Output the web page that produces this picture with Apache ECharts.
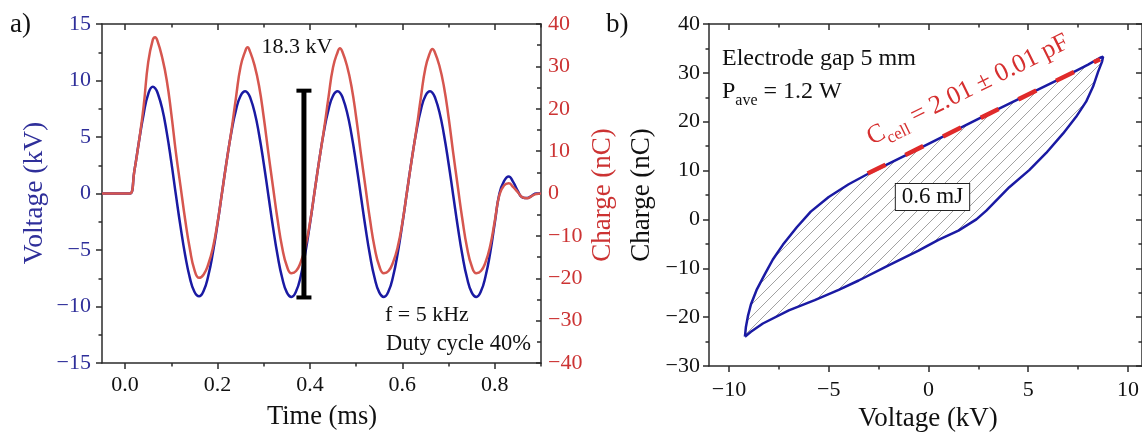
<!DOCTYPE html>
<html><head><meta charset="utf-8">
<script src="https://cdn.jsdelivr.net/npm/echarts@6/dist/echarts.min.js"></script>
<style>html,body{margin:0;padding:0;background:#fff}#c{width:1142px;height:434px}</style>
</head><body><div id="c"></div>
<script>
// ---------- data ----------
const timeMs = [
  -0.05, 0.0, 0.0105,
  0.02, 0.03, 0.04, 0.05, 0.06, 0.065, 0.07, 0.08, 0.09, 0.10, 0.11,
  0.12, 0.13, 0.14, 0.15, 0.16, 0.17, 0.18, 0.19, 0.20, 0.21,
  0.22, 0.23, 0.24, 0.25, 0.26, 0.265, 0.27, 0.28, 0.29, 0.30, 0.31,
  0.32, 0.33, 0.34, 0.35, 0.36, 0.37, 0.38, 0.39, 0.40, 0.41,
  0.42, 0.43, 0.44, 0.45, 0.46, 0.465, 0.47, 0.48, 0.49, 0.50, 0.51,
  0.52, 0.53, 0.54, 0.55, 0.56, 0.57, 0.58, 0.59, 0.60, 0.61,
  0.62, 0.63, 0.64, 0.65, 0.66, 0.665, 0.67, 0.68, 0.69, 0.70, 0.71,
  0.72, 0.73, 0.74, 0.75, 0.76, 0.77, 0.78, 0.79, 0.80, 0.81,
  0.82, 0.83, 0.84, 0.85, 0.86, 0.87, 0.88, 0.89, 0.90
];
const voltageKV = [
  0, 0, 0,
  2.0, 4.6, 7.0, 8.8, 9.45, 9.31, 8.94, 7.56, 5.43, 2.78, -0.15,
  -2.95, -5.46, -7.44, -8.70, -9.10, -8.61, -7.28, -5.23, -2.68, 0.14,
  2.93, 5.43, 7.40, 8.65, 9.05, 8.92, 8.56, 7.24, 5.20, 2.66, -0.15,
  -2.96, -5.49, -7.48, -8.75, -9.15, -8.66, -7.32, -5.26, -2.69, 0.14,
  2.93, 5.43, 7.40, 8.65, 9.05, 8.92, 8.56, 7.24, 5.20, 2.66, -0.15,
  -2.96, -5.49, -7.48, -8.75, -9.15, -8.66, -7.32, -5.26, -2.69, 0.14,
  2.93, 5.43, 7.40, 8.65, 9.05, 8.92, 8.56, 7.24, 5.20, 2.66, -0.15,
  -2.96, -5.49, -7.48, -8.75, -9.15, -8.66, -7.32, -5.26, -2.60, 0.0,
  1.1, 1.5, 1.0, 0.2, -0.35, -0.4, -0.2, 0.0, 0.0
];
const chargeNC = [
  0, 0, 0,
  5.3, 12.3, 20.5, 31.0, 36.3, 36.9, 36.0, 32.2, 26.8, 18.8, 9.6,
  1.7, -6.2, -13.0, -18.0, -19.9, -19.1, -16.7, -12.8, -6.9, 0.4,
  7.8, 14.8, 22.7, 30.0, 33.6, 34.5, 33.6, 30.3, 25.3, 18.0, 9.6,
  1.6, -6.2, -12.8, -17.1, -18.8, -18.3, -16.2, -12.6, -6.9, 0.4,
  7.8, 14.8, 22.6, 29.8, 33.4, 34.3, 33.5, 30.2, 25.2, 18.0, 9.6,
  1.6, -6.2, -12.8, -17.1, -18.8, -18.3, -16.2, -12.6, -6.9, 0.4,
  7.8, 14.8, 22.6, 29.7, 33.3, 34.1, 33.4, 30.2, 25.2, 18.0, 9.6,
  1.6, -6.2, -12.8, -17.1, -18.8, -18.3, -16.2, -12.4, -6.5, -0.3,
  1.9, 2.4, 1.5, 0.3, -0.9, -1.1, -0.6, -0.1, 0.0
];
// Q-V Lissajous loop (panel b)
const loopVoltage = [
  -9.2, -9.15, -9.05, -8.9, -8.6, -8.2, -7.8, -7.3, -6.6, -5.9, -5.0, -4.0, -3.0,
  -1.0, 1.0, 3.0, 5.0, 7.0, 8.0, 8.6, 8.75,
  8.7, 8.5, 8.25, 7.9, 7.4, 6.75, 5.9, 5.05, 4.05, 2.9, 2.4, 1.5, 0.5, -0.5,
  -2.0, -3.5, -4.5, -5.7, -7.0, -8.3, -8.9, -9.2
];
const loopCharge = [
  -24.0, -22.0, -19.8, -17.4, -14.3, -11.2, -8.2, -5.2, -1.6, 1.6, 4.6, 7.2, 9.4,
  13.4, 17.5, 21.6, 25.6, 29.6, 31.7, 33.1, 33.3,
  32.3, 30.2, 27.2, 24.1, 21.0, 17.6, 13.6, 10.1, 6.6, 1.8, 0.0, -2.3, -4.2, -6.4,
  -9.4, -12.5, -14.4, -16.5, -18.6, -21.3, -23.0, -24.0
];
const fitVoltage = [-3.05, 8.6];
const fitCharge = [9.4, 32.8];
const errTime = 0.387, errLow = -9.2, errHigh = 9.1;
const timeMajor = [0, 0.2, 0.4, 0.6, 0.8];
const timeMinor = [0.1, 0.3, 0.5, 0.7, 0.9];
const voltMajor = [-10, -5, 0, 5, 10];
const voltMinor = [-7.5, -2.5, 2.5, 7.5];

// ---------- styles ----------
const FONT = 'Liberation Serif';
const AX = '#2b2b2b';
const BLUE = '#1a1aa3';
const RED = '#d6564f';
const BLUE_TXT = '#2f2f9a';
const RED_TXT = '#cc3333';
const minus = v => (v < 0 ? '\u2212' + Math.abs(v) : String(v));

function xAx(grid, pos, min, max, ticks, len, inside, labels, margin, fmt, showLine) {
  return {
    type: 'value', gridIndex: grid, position: pos, min: min, max: max,
    axisLine: { show: showLine, onZero: false, lineStyle: { color: AX, width: 1.5 } },
    axisTick: { show: true, inside: inside, length: len, customValues: ticks, lineStyle: { color: AX, width: 1.5 } },
    axisLabel: labels ? { show: true, customValues: ticks, margin: margin, fontFamily: FONT, fontSize: 22, color: '#111', formatter: fmt } : { show: false },
    splitLine: { show: false }
  };
}
function yAx(grid, pos, min, max, interval, inside, len, mlen, labels, margin, color) {
  return {
    type: 'value', gridIndex: grid, position: pos, min: min, max: max, interval: interval,
    axisLine: { show: true, onZero: false, lineStyle: { color: AX, width: 1.5 } },
    axisTick: { show: true, inside: inside, length: len, lineStyle: { color: AX, width: 1.5 } },
    minorTick: { show: true, splitNumber: 2, length: mlen, lineStyle: { color: AX, width: 1.5 } },
    axisLabel: labels ? { show: true, margin: margin, fontFamily: FONT, fontSize: 22, color: color, formatter: minus } : { show: false },
    splitLine: { show: false }, minorSplitLine: { show: false }
  };
}

// hatch pattern
const S = 12;
const pc = document.createElement('canvas');
pc.width = S; pc.height = S;
const g = pc.getContext('2d');
g.strokeStyle = '#7a7a7a'; g.lineWidth = 0.7;
g.beginPath();
g.moveTo(0, S); g.lineTo(S, 0);
g.moveTo(-1, 1); g.lineTo(1, -1);
g.moveTo(S - 1, S + 1); g.lineTo(S + 1, S - 1);
g.stroke();

const chart = echarts.init(document.getElementById('c'), null, { renderer: 'canvas' });
const tf = v => v.toFixed(1);

chart.setOption({
  animation: false,
  backgroundColor: '#fff',
  grid: [
    { left: 102, top: 24, width: 439, height: 339 },
    { left: 709, top: 24, width: 434, height: 342 }
  ],
  xAxis: [
    xAx(0, 'bottom', -0.05, 0.9, timeMajor, 6, false, true, 11, tf, true),
    xAx(0, 'bottom', -0.05, 0.9, timeMinor, 3.5, false, false, 0, null, false),
    xAx(0, 'top', -0.05, 0.9, timeMajor, 6, true, false, 0, null, true),
    xAx(0, 'top', -0.05, 0.9, timeMinor, 3.5, true, false, 0, null, false),
    xAx(1, 'bottom', -11, 10.7, voltMajor, 6, false, true, 13, minus, true),
    xAx(1, 'bottom', -11, 10.7, voltMinor, 3.5, false, false, 0, null, false),
    xAx(1, 'top', -11, 10.7, voltMajor, 6, true, false, 0, null, true),
    xAx(1, 'top', -11, 10.7, voltMinor, 3.5, true, false, 0, null, false)
  ],
  yAxis: [
    yAx(0, 'left', -15, 15, 5, false, 6, 3.5, true, 11, BLUE_TXT),
    yAx(0, 'right', -40, 40, 10, true, 5, 4, true, 7, RED_TXT),
    yAx(1, 'left', -30, 40, 10, false, 6, 3.5, true, 9, '#111'),
    yAx(1, 'right', -30, 40, 10, true, 6, 3.5, false, 0, '#111')
  ],
  series: [
    {
      type: 'line', xAxisIndex: 0, yAxisIndex: 0, symbol: 'none', smooth: 0.5,
      data: timeMs.map((t, i) => [t, voltageKV[i]]),
      lineStyle: { color: BLUE, width: 2.5 }, z: 3
    },
    {
      type: 'line', xAxisIndex: 0, yAxisIndex: 1, symbol: 'none', smooth: 0.5,
      data: timeMs.map((t, i) => [t, chargeNC[i]]),
      lineStyle: { color: RED, width: 2.5 }, z: 4
    },
    {
      type: 'custom', xAxisIndex: 0, yAxisIndex: 0, z: 5,
      data: [[errTime, errLow, errHigh]],
      encode: { x: 0, y: [1, 2] },
      renderItem: function (params, api) {
        const top = api.coord([api.value(0), api.value(2)]);
        const bot = api.coord([api.value(0), api.value(1)]);
        const w = 7.5;
        return {
          type: 'group', children: [
            { type: 'line', shape: { x1: top[0], y1: top[1], x2: bot[0], y2: bot[1] }, style: { stroke: '#000', lineWidth: 5 } },
            { type: 'line', shape: { x1: top[0] - w, y1: top[1], x2: top[0] + w, y2: top[1] }, style: { stroke: '#000', lineWidth: 4 } },
            { type: 'line', shape: { x1: bot[0] - w, y1: bot[1], x2: bot[0] + w, y2: bot[1] }, style: { stroke: '#000', lineWidth: 4 } }
          ]
        };
      }
    },
    {
      type: 'custom', xAxisIndex: 4, yAxisIndex: 2, z: 2, silent: true,
      data: [[loopVoltage[0], loopCharge[0]]],
      renderItem: function (params, api) {
        const pts = loopVoltage.map((v, i) => api.coord([v, loopCharge[i]]));
        return { type: 'polygon', shape: { points: pts }, style: { fill: { image: pc, repeat: 'repeat' }, stroke: null } };
      }
    },
    {
      type: 'line', xAxisIndex: 4, yAxisIndex: 2, symbol: 'none', smooth: false,
      data: loopVoltage.map((v, i) => [v, loopCharge[i]]),
      lineStyle: { color: BLUE, width: 2.5 }, z: 3
    },
    {
      type: 'line', xAxisIndex: 4, yAxisIndex: 2, symbol: 'none',
      data: fitVoltage.map((v, i) => [v, fitCharge[i]]),
      lineStyle: { color: '#e02a2a', width: 4.5, type: [20, 22] }, z: 4
    }
  ],
  graphic: [
    { type: 'text', x: 10, y: 25, style: { text: 'a)', fontFamily: FONT, fontSize: 27, fill: '#111', align: 'left', verticalAlign: 'middle' } },
    { type: 'text', x: 606, y: 25, style: { text: 'b)', fontFamily: FONT, fontSize: 27, fill: '#111', align: 'left', verticalAlign: 'middle' } },
    { type: 'text', x: 297, y: 47.5, style: { text: '18.3 kV', fontFamily: FONT, fontSize: 22, fill: '#111', align: 'center', verticalAlign: 'middle' } },
    { type: 'text', x: 385, y: 315.5, style: { text: 'f = 5 kHz', fontFamily: FONT, fontSize: 22, fill: '#111', align: 'left', verticalAlign: 'middle' } },
    { type: 'text', x: 386, y: 344, style: { text: 'Duty cycle 40%', fontFamily: FONT, fontSize: 22.5, fill: '#111', align: 'left', verticalAlign: 'middle' } },
    { type: 'text', x: 322, y: 417, style: { text: 'Time (ms)', fontFamily: FONT, fontSize: 26.5, fill: '#111', align: 'center', verticalAlign: 'middle' } },
    { type: 'text', x: 928, y: 419, style: { text: 'Voltage (kV)', fontFamily: FONT, fontSize: 27, fill: '#111', align: 'center', verticalAlign: 'middle' } },
    { type: 'text', x: 35, y: 193, rotation: Math.PI / 2, style: { text: 'Voltage (kV)', fontFamily: FONT, fontSize: 27.5, fill: BLUE_TXT, align: 'center', verticalAlign: 'middle' } },
    { type: 'text', x: 603, y: 195, rotation: Math.PI / 2, style: { text: 'Charge (nC)', fontFamily: FONT, fontSize: 27, fill: RED_TXT, align: 'center', verticalAlign: 'middle' } },
    { type: 'text', x: 642, y: 195, rotation: Math.PI / 2, style: { text: 'Charge (nC)', fontFamily: FONT, fontSize: 27, fill: '#111', align: 'center', verticalAlign: 'middle' } },
    { type: 'text', x: 722, y: 59, style: { text: 'Electrode gap 5 mm', fontFamily: FONT, fontSize: 24, fill: '#111', align: 'left', verticalAlign: 'middle' } },
    { type: 'text', x: 722, y: 92, style: {
        text: '{n|P}{s|ave}{n| = 1.2 W}', align: 'left', verticalAlign: 'middle',
        rich: { n: { fontFamily: FONT, fontSize: 24, fill: '#111' }, s: { fontFamily: FONT, fontSize: 16, fill: '#111', padding: [18, 0, 0, 0] } } } },
    { type: 'text', x: 932.5, y: 197, z: 10, style: {
        text: '0.6 mJ', fontFamily: FONT, fontSize: 23, fill: '#111', align: 'center', verticalAlign: 'middle',
        backgroundColor: '#fff', borderColor: '#222', borderWidth: 1, padding: [2, 6, 1, 6] } },
    { type: 'text', x: 968, y: 90, rotation: 26.2 * Math.PI / 180, z: 10, style: {
        text: '{n|C}{s|cell}{n| = 2.01 \u00b1 0.01 pF}', align: 'center', verticalAlign: 'middle',
        rich: { n: { fontFamily: FONT, fontSize: 26, fill: '#d62f2f' }, s: { fontFamily: FONT, fontSize: 17, fill: '#d62f2f', padding: [18, 0, 0, 0] } } } }
  ]
});
</script>
</body></html>
